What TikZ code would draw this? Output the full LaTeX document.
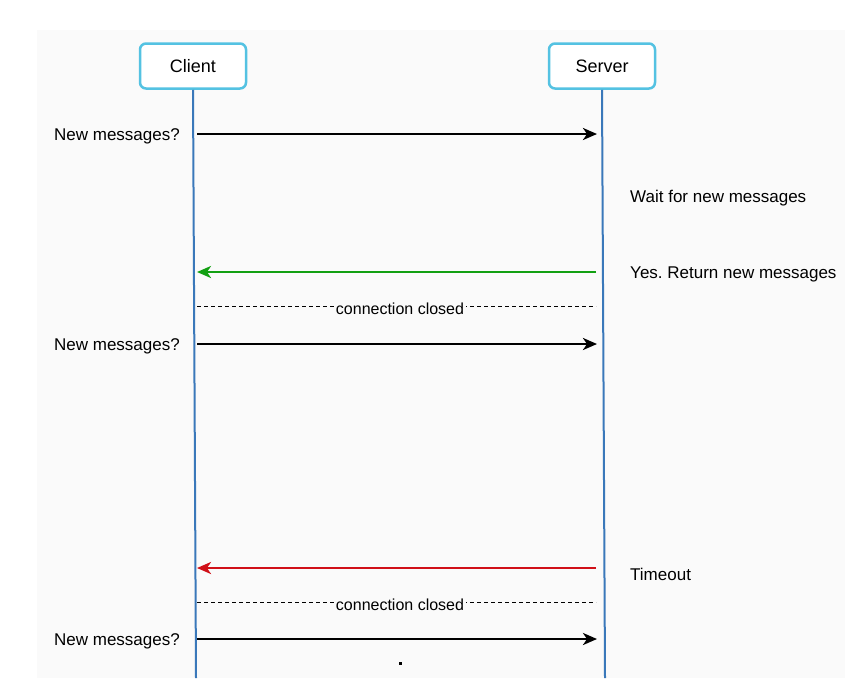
\documentclass[tikz,border=0pt]{standalone}
\usepackage{fontspec}
\setmainfont{Liberation Sans}
\usetikzlibrary{arrows.meta}
\definecolor{boxblue}{RGB}{84,194,226}
\definecolor{lifeblue}{RGB}{58,120,186}
\definecolor{okgreen}{RGB}{18,160,18}
\definecolor{outred}{RGB}{208,16,24}
\definecolor{panel}{RGB}{250,250,250}
\frenchspacing
\begin{document}
\begin{tikzpicture}[x=1pt, y=-1pt, every node/.style={font=\fontsize{17}{20}\selectfont, inner sep=2pt},
    actor/.style={draw=boxblue, line width=2.5pt, rounded corners=6pt, fill=white, minimum width=106pt, minimum height=45pt, font=\fontsize{18}{21}\selectfont},
    life/.style={lifeblue, line width=2pt},
    msg/.style={line width=2.6pt, -{Stealth[length=14pt, width=12pt, inset=4pt]}},
    closed/.style={dashed, dash pattern=on 4pt off 3pt, line width=1pt},
    closedlabel/.style={fill=panel, inner xsep=2pt, font=\fontsize{16}{19}\selectfont},
    note/.style={anchor=west}]
    \useasboundingbox (0,0) rectangle (858,678);
    \fill[panel] (37,30) rectangle (845,678);
    % the two parties and their lifelines
    \node[actor] (client) at (193,66) {Client};
    \node[actor] (server) at (602,66) {Server};
    \coordinate (clientend) at (196,678);
    \coordinate (serverend) at (605,678);
    \draw[life] (client.south) -- (clientend);
    \draw[life] (server.south) -- (serverend);
    % points on the lifelines
    \coordinate (c1) at (197,134);  \coordinate (s1) at (597,134);
    \coordinate (c2) at (197,272);  \coordinate (s2) at (596,272);
    \coordinate (c3) at (197,306);  \coordinate (s3) at (596,306);
    \coordinate (c4) at (197,344);  \coordinate (s4) at (597,344);
    \coordinate (c5) at (197,568);  \coordinate (s5) at (596,568);
    \coordinate (c6) at (197,602);  \coordinate (s6) at (596,602);
    \coordinate (c7) at (197,639);  \coordinate (s7) at (597,639);
    % messages
    \node[anchor=east] (ask1) at (182,136) {New messages?};
    \draw[msg] (c1) -- (s1);
    \node[note] (wait) at (628,198) {Wait for new messages};
    \node[note] (yes) at (628,274) {Yes. Return new messages};
    \draw[msg, okgreen] (s2) -- (c2);
    \draw[closed] (c3) -- (s3);
    \node[closedlabel] (close1) at (400,309) {connection closed};
    \node[anchor=east] (ask2) at (182,346) {New messages?};
    \draw[msg] (c4) -- (s4);
    \node[note] (timeout) at (628,574) {Timeout};
    \draw[msg, outred] (s5) -- (c5);
    \draw[closed] (c6) -- (s6);
    \node[closedlabel] (close2) at (400,605) {connection closed};
    \node[anchor=east] (ask3) at (182,641) {New messages?};
    \draw[msg] (c7) -- (s7);
    \fill (398.5,661.5) rectangle (401.5,664.5);
\end{tikzpicture}
\end{document}
